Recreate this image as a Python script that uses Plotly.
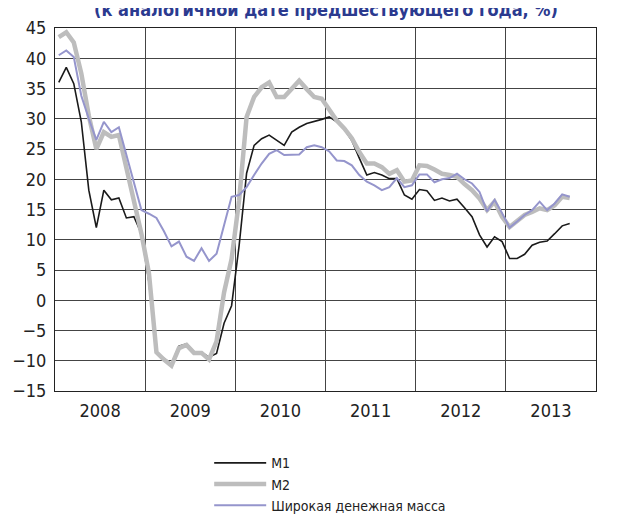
import plotly.graph_objects as go

years = ["2008", "2009", "2010", "2011", "2012", "2013"]
series_names = ["M1", "M2", "Широкая денежная масса"]
title_text = "(к аналогичной дате предшествующего года, %)"

# Monthly values, Jan 2008 .. Sep 2013 (% y/y)
m1 = [36.0, 38.5, 35.8, 29.5, 18.2, 12.0, 18.2, 16.6, 16.9, 13.6, 13.8, 11.0,
      3.0, -8.8, -9.6, -10.5, -7.6, -7.2, -8.5, -8.6, -9.4, -8.8, -3.8, -0.9,
      9.0, 21.0, 25.6, 26.7, 27.3, 26.4, 25.6, 27.8, 28.6, 29.2, 29.5, 29.9,
      30.3, 29.5, 28.3, 26.4, 23.5, 20.7, 21.1, 20.7, 20.1, 20.1, 17.4, 16.7,
      18.3, 18.1, 16.5, 16.9, 16.4, 16.7, 15.3, 13.8, 10.8, 8.8, 10.5, 9.7,
      6.9, 6.9, 7.6, 9.1, 9.6, 9.8, 11.0, 12.3, 12.7]
m2 = [43.5, 44.3, 42.6, 37.5, 30.5, 25.0, 27.8, 27.0, 27.3, 21.8, 16.8, 11.0,
      4.5, -8.6, -9.8, -10.8, -7.9, -7.4, -8.7, -8.7, -9.8, -6.8, 1.3, 6.8,
      16.5, 30.3, 33.6, 35.2, 36.0, 33.6, 33.6, 34.9, 36.3, 34.9, 33.6, 33.3,
      31.4, 29.7, 28.4, 26.8, 24.5, 22.6, 22.6, 22.0, 20.9, 21.5, 19.6, 19.8,
      22.3, 22.2, 21.6, 20.9, 20.7, 20.4, 19.2, 18.2, 16.8, 14.9, 16.3, 13.8,
      12.1, 13.2, 14.1, 14.6, 15.2, 14.9, 15.7, 17.1, 16.9]
broad = [40.5, 41.3, 40.2, 33.8, 30.0, 26.5, 29.5, 27.8, 28.6, 24.0, 19.6, 14.9,
         14.3, 13.6, 11.4, 8.9, 9.7, 7.2, 6.5, 8.6, 6.5, 7.7, 12.4, 17.1,
         17.4, 18.7, 20.7, 22.6, 24.2, 24.8, 24.0, 24.0, 24.1, 25.3, 25.6, 25.3,
         24.6, 23.1, 23.0, 22.3, 20.7, 19.6, 19.0, 18.2, 18.7, 20.2, 18.7, 19.0,
         20.8, 20.8, 19.5, 20.0, 20.2, 20.9, 20.0, 19.3, 17.9, 14.7, 16.6, 14.4,
         12.0, 13.0, 14.1, 14.9, 16.3, 14.9, 16.0, 17.5, 17.1]

y_ticks = list(range(-15, 50, 5))

# month positions (centre of each month, in months since Jan 2008)
x = [i + 0.5 for i in range(len(m1))]
year_centres = [12 * k + 6 for k in range(len(years))]

FONT = "DejaVu Sans Condensed, Liberation Sans, sans-serif"
tick_font = dict(family=FONT, size=18, color="#222222")

fig = go.Figure()
fig.add_trace(go.Scatter(x=x, y=m1, name=series_names[0], mode="lines",
                         line=dict(color="#1a1a1a", width=1.6)))
fig.add_trace(go.Scatter(x=x, y=m2, name=series_names[1], mode="lines",
                         line=dict(color="#bdbdbd", width=4.5)))
fig.add_trace(go.Scatter(x=x, y=broad, name=series_names[2], mode="lines",
                         line=dict(color="#9595cc", width=2)))

fig.update_layout(
    width=628, height=523,
    margin=dict(l=47, r=40, t=20, b=140, autoexpand=False),
    paper_bgcolor="white", plot_bgcolor="white",
    showlegend=True,
    legend=dict(x=0.285, xanchor="left", y=-0.155, yanchor="top",
                font=dict(family=FONT, size=14, color="#222222"),
                itemwidth=52, tracegroupgap=0, bgcolor="rgba(0,0,0,0)"),
    xaxis=dict(range=[0, 12 * len(years)], tickmode="array",
               tickvals=year_centres, ticktext=years, showgrid=False,
               ticks="", tickfont=tick_font, ticklabelstandoff=3,
               automargin=False,
               showline=True, linecolor="#222222", linewidth=1.2, mirror=True,
               zeroline=False,
               minor=dict(tick0=0, dtick=12, showgrid=True,
                          gridcolor="#444444", gridwidth=1)),
    yaxis=dict(range=[-15, 45], tickmode="array", tickvals=y_ticks,
               showgrid=True, gridcolor="#444444", gridwidth=1,
               zeroline=False, ticks="", tickfont=tick_font,
               ticklabelstandoff=4, automargin=False,
               showline=True, linecolor="#222222", linewidth=1.2, mirror=True),
    yaxis2=dict(range=[-15, 45], tickmode="array", tickvals=y_ticks,
                overlaying="y", side="right", anchor="x", showgrid=False,
                zeroline=False, ticks="", tickfont=tick_font,
                ticklabelstandoff=5, automargin=False, showline=False),
)

fig.add_annotation(text="<b>" + title_text + "</b>",
                   xref="paper", yref="paper", x=0.5, y=1.052,
                   xanchor="center", yanchor="middle", showarrow=False,
                   font=dict(family=FONT, size=18, color="#2b3a8f"))

fig.write_html("out.html")
